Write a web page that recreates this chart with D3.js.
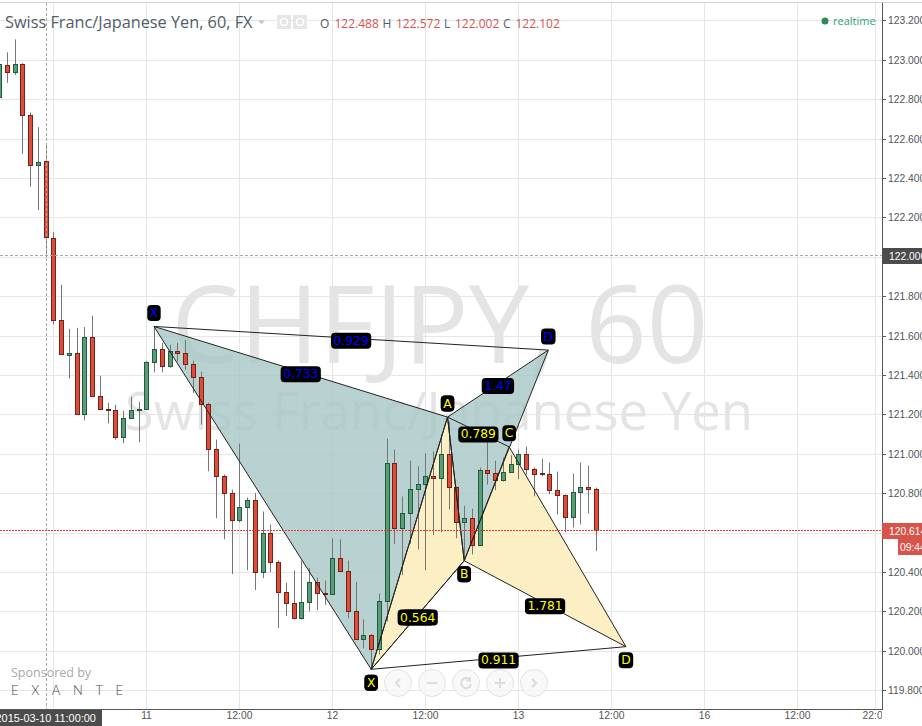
<!DOCTYPE html>
<html>
<head>
<meta charset="utf-8">
<title>CHFJPY, 60</title>
<script src="https://cdn.jsdelivr.net/npm/d3@7/dist/d3.min.js"></script>
<style>
  html, body { margin: 0; padding: 0; background: #fff; overflow: hidden; }
  svg { display: block; }
  .axis-text { font-family: "Liberation Sans", Arial, sans-serif; font-size: 10.3px; fill: #555; }
  .ui { font-family: "Open Sans", sans-serif; }
  .tag { font-family: "DejaVu Sans", sans-serif; font-size: 12.3px; text-anchor: middle; dominant-baseline: central; }
</style>
</head>
<body>
<svg id="chart" width="922" height="726"></svg>
<script>
// hours counted from 2015-03-11 00:00, gaps closed over the weekend
const firstBar = -19;
const opens = [
  122.812, 122.978, 122.938, 122.983, 122.720, 122.466, 122.488, 122.097, 121.681, 121.505,
  121.514, 121.205, 121.595, 121.296, 121.230, 121.225, 121.088, 121.184, 121.223, 121.230,
  121.468, 121.534, 121.446, 121.524, 121.514, 121.458, 121.392, 121.255, 121.027, 120.891,
  120.804, 120.668, 120.734, 120.769, 120.404, 120.602, 120.455, 120.303, 120.247, 120.171,
  120.252, 120.353, 120.298, 120.290, 120.475, 120.409, 120.205, 120.063, 120.085, 120.012,
  120.255, 120.956, 120.627, 120.703, 120.825, 120.850, 120.891, 120.878, 121.002, 120.833,
  120.657, 120.678, 120.539, 120.921, 120.906, 120.868, 120.911, 120.951, 121.002, 120.924,
  120.903, 120.899, 120.820, 120.794, 120.683, 120.810, 120.835, 120.825
];
const highs = [
  122.985, 123.040, 123.106, 122.985, 122.735, 122.660, 122.572, 122.128, 121.860, 121.637,
  121.642, 121.646, 121.703, 121.399, 121.262, 121.252, 121.221, 121.292, 121.267, 121.473,
  121.649, 121.566, 121.556, 121.566, 121.581, 121.476, 121.419, 121.262, 121.075, 120.897,
  120.821, 121.054, 120.781, 120.804, 120.710, 120.644, 120.461, 120.348, 120.411, 120.460,
  120.424, 120.374, 120.360, 120.573, 120.568, 120.461, 120.353, 120.162, 120.088, 120.294,
  121.080, 121.024, 120.786, 120.968, 120.939, 121.004, 121.015, 121.100, 121.166, 120.837,
  120.739, 120.725, 120.933, 121.110, 120.968, 120.983, 120.995, 121.024, 121.039, 120.933,
  120.977, 120.958, 120.912, 120.796, 120.902, 120.958, 120.943, 120.831
];
const lows = [
  122.800, 122.885, 122.925, 122.525, 122.358, 122.240, 122.002, 121.659, 121.505, 121.385,
  121.200, 121.172, 121.292, 121.228, 121.157, 121.075, 121.056, 121.182, 121.061, 121.228,
  121.416, 121.416, 121.439, 121.471, 121.429, 121.311, 121.151, 120.914, 120.676, 120.569,
  120.392, 120.655, 120.412, 120.311, 120.372, 120.402, 120.118, 120.179, 120.162, 120.162,
  120.203, 120.210, 120.235, 120.288, 120.405, 120.168, 120.060, 120.015, 119.909, 119.985,
  120.152, 120.544, 120.387, 120.546, 120.517, 120.412, 120.590, 120.605, 120.720, 120.574,
  120.461, 120.492, 120.537, 120.847, 120.818, 120.862, 120.909, 120.873, 120.897, 120.787,
  120.889, 120.797, 120.695, 120.605, 120.629, 120.644, 120.700, 120.509
];
const closes = [
  122.980, 122.938, 122.983, 122.720, 122.466, 122.482, 122.102, 121.681, 121.509, 121.512,
  121.205, 121.595, 121.296, 121.230, 121.223, 121.088, 121.184, 121.225, 121.230, 121.468,
  121.534, 121.446, 121.524, 121.512, 121.458, 121.392, 121.255, 121.027, 120.891, 120.804,
  120.668, 120.734, 120.769, 120.404, 120.602, 120.455, 120.303, 120.247, 120.171, 120.252,
  120.353, 120.298, 120.290, 120.475, 120.409, 120.205, 120.065, 120.085, 120.012, 120.255,
  120.956, 120.627, 120.703, 120.825, 120.850, 120.891, 120.878, 121.002, 120.833, 120.657,
  120.678, 120.539, 120.921, 120.906, 120.868, 120.911, 120.951, 121.002, 120.924, 120.901,
  120.899, 120.820, 120.794, 120.683, 120.810, 120.835, 120.823, 120.614
];

// the two harmonic patterns, X A B C D as [hour, price]
const bluePoints = [[0.97, 121.649], [29, 119.909], [38.85, 121.189], [41, 120.460], [51.85, 121.529]];
const yellowPoints = [[29, 119.909], [38.85, 121.189], [41, 120.460], [46.8, 121.038], [61.87, 120.024]];
const blueRatios = { XB: "0.733", AC: "0.62", BD: "1.47", XD: "0.929" };
const yellowRatios = { XB: "0.564", AC: "0.789", BD: "1.781", XD: "0.911" };
const pointNames = ["X", "A", "B", "C", "D"];
const blueTagSide = [-1, 1, -1, 1, -1];
const yellowTagSide = [1, -1, 1, -1, 1];

const priceTicks = d3.range(119.8, 123.21, 0.2);
const timeTicks = [-12, 0, 12, 24, 36, 48, 60, 72, 84, 94];
const timeLabels = ["", "11", "12:00", "12", "12:00", "13", "12:00", "16", "12:00", "22:00"];

const lastPrice = 120.614;
const crossPrice = 122.0;
const crossHour = -13;
const crossLabel = "2015-03-10 11:00:00";
const countdown = "09:44";
const legendKeys = ["O", "H", "L", "C"];
const legendValues = ["122.488", "122.572", "122.002", "122.102"];

const paneRight = 882, paneBottom = 709;
const red = "#d94f3b", redEdge = "#7a1f14", green = "#5a9c78", greenEdge = "#1f5c3e";

const svg = d3.select("#chart");
const x = d3.scaleLinear().domain([0, 60]).range([146.45, 611.45]);
const y = d3.scaleLinear().domain([119.8, 123.2]).range([690.8, 20.8]);
// snapped copy so grid lines land on whole pixels
const yGrid = y.copy().range([690.3, 20.3]).interpolate(d3.interpolateRound);
const xGrid = x.copy().interpolate(d3.interpolateRound);

svg.append("defs").append("clipPath").attr("id", "pane")
  .append("rect").attr("x", 0).attr("y", 3).attr("width", paneRight).attr("height", paneBottom - 3);
svg.append("defs").append("clipPath").attr("id", "xlabels")
  .append("rect").attr("x", 0).attr("y", paneBottom).attr("width", paneRight).attr("height", 20);

const pane = svg.append("g").attr("clip-path", "url(#pane)");

// Grid
pane.append("g").selectAll("line").data(priceTicks).join("line")
  .attr("x1", 0).attr("x2", paneRight)
  .attr("y1", d => yGrid(d) + 0.5).attr("y2", d => yGrid(d) + 0.5)
  .attr("stroke", "#e6e6e6");
pane.append("g").selectAll("line").data(timeTicks).join("line")
  .attr("y1", 3).attr("y2", paneBottom)
  .attr("x1", d => xGrid(d) + 0.5).attr("x2", d => xGrid(d) + 0.5)
  .attr("stroke", "#e6e6e6");

// Watermark
pane.append("text").text("CHFJPY, 60")
  .attr("x", 440).attr("y", 363).attr("text-anchor", "middle")
  .attr("font-family", "'Open Sans', sans-serif").attr("font-size", 108)
  .attr("fill", "#e4e4e4");
pane.append("text").text("Swiss Franc/Japanese Yen")
  .attr("x", 439).attr("y", 430).attr("text-anchor", "middle")
  .attr("font-family", "'Open Sans', sans-serif").attr("font-size", 52.7)
  .attr("fill", "#e4e4e4");

// Pattern fills go under the candles
function triangle(points, a, b, c) {
  return d3.line().x(d => x(d[0])).y(d => y(d[1]))([points[a], points[b], points[c]]) + "Z";
}
function fillPattern(points, colour, opacity) {
  [[0, 1, 2], [2, 3, 4]].forEach(t => {
    pane.append("path").attr("d", triangle(points, t[0], t[1], t[2]))
      .attr("fill", colour).attr("fill-opacity", opacity);
  });
}
fillPattern(bluePoints, "#a6c7c7", 0.8);
fillPattern(yellowPoints, "#fdeebf", 0.93);

// Candles
const bars = d3.range(opens.length).map(i => ({
  hour: firstBar + i, open: opens[i], high: highs[i], low: lows[i], close: closes[i]
}));
const snapX = d => Math.round(x(d.hour)) + 0.5;
const up = d => d.close >= d.open;
const candle = pane.append("g").selectAll("g").data(bars).join("g");
candle.append("line")
  .attr("x1", snapX).attr("x2", snapX)
  .attr("y1", d => y(d.high)).attr("y2", d => y(d.low))
  .attr("stroke", "#757575");
candle.append("rect")
  .attr("x", d => snapX(d) - 2).attr("width", 4)
  .attr("y", d => Math.round(y(Math.max(d.open, d.close))) + 0.5)
  .attr("height", d => Math.max(1, Math.round(y(Math.min(d.open, d.close))) - Math.round(y(Math.max(d.open, d.close)))))
  .attr("fill", d => up(d) ? green : red)
  .attr("stroke", d => up(d) ? greenEdge : redEdge);

// Pattern lines on top
function linePattern(points) {
  [[0, 1], [1, 2], [2, 3], [3, 4], [0, 2], [1, 3], [2, 4], [0, 4]].forEach(s => {
    pane.append("line")
      .attr("x1", x(points[s[0]][0])).attr("y1", y(points[s[0]][1]))
      .attr("x2", x(points[s[1]][0])).attr("y2", y(points[s[1]][1]))
      .attr("stroke", "#222").attr("stroke-width", 1);
  });
}
linePattern(bluePoints);
linePattern(yellowPoints);

function tag(cx, cy, label, colour) {
  const g = pane.append("g");
  const t = g.append("text").attr("class", "tag").attr("x", cx).attr("y", cy).attr("fill", colour).text(label);
  const w = t.node().getComputedTextLength() + 5;
  g.insert("rect", "text")
    .attr("x", cx - w / 2).attr("y", cy - 8).attr("width", w).attr("height", 16)
    .attr("rx", 4).attr("fill", "#000");
}
function tagPattern(points, ratios, sides, colour) {
  const mid = (a, b, key) => tag(
    (x(points[a][0]) + x(points[b][0])) / 2,
    (y(points[a][1]) + y(points[b][1])) / 2 + 2.5,
    ratios[key], colour);
  mid(0, 2, "XB"); mid(1, 3, "AC"); mid(2, 4, "BD"); mid(0, 4, "XD");
  points.forEach((p, i) => tag(x(p[0]), y(p[1]) + sides[i] * 13.5, pointNames[i], colour));
}
tagPattern(bluePoints, blueRatios, blueTagSide, "#0000ff");
tagPattern(yellowPoints, yellowRatios, yellowTagSide, "#ffff00");

// Crosshair and last price line
pane.append("line")
  .attr("x1", 0).attr("x2", paneRight).attr("y1", yGrid(crossPrice) - 1.5).attr("y2", yGrid(crossPrice) - 1.5)
  .attr("stroke", "#a8a8a8").attr("stroke-dasharray", "3,2");
pane.append("line")
  .attr("x1", Math.round(x(crossHour)) + 0.5).attr("x2", Math.round(x(crossHour)) + 0.5).attr("y1", 3).attr("y2", paneBottom)
  .attr("stroke", "#a8a8a8").attr("stroke-dasharray", "3,2");
pane.append("line")
  .attr("x1", 0).attr("x2", paneRight).attr("y1", Math.round(y(lastPrice)) + 0.5).attr("y2", Math.round(y(lastPrice)) + 0.5)
  .attr("stroke", "#e8392b").attr("stroke-dasharray", "2,1");

// Nav buttons
const navX = [398, 432, 466, 500, 534];
const navGlyphs = ["M2,-4L-2,0L2,4", "M-5,0H5", "M4,-3A5,5 0 1 0 5,1M4,-6V-2.5H0.5", "M-5,0H5M0,-5V5", "M-2,-4L2,0L-2,4"];
const nav = pane.append("g").selectAll("g").data(navX).join("g")
  .attr("transform", d => `translate(${d},683)`);
nav.append("circle").attr("r", 13.5).attr("fill", "#f7f7f7").attr("fill-opacity", 0.8)
  .attr("stroke", "#e3e3e3").attr("stroke-width", 1);
nav.append("path").attr("d", (d, i) => navGlyphs[i]).attr("fill", "none")
  .attr("stroke", "#dcdcdc").attr("stroke-width", 2);

// Sponsored by
svg.append("text").attr("class", "ui").attr("x", 11).attr("y", 677)
  .attr("font-size", 12.5).attr("fill", "#a9a9a9").text("Sponsored by");
svg.append("text").attr("x", 11).attr("y", 695)
  .attr("font-family", "Lato, sans-serif").attr("font-weight", 300)
  .attr("font-size", 13).attr("letter-spacing", 12.6).attr("fill", "#444").text("EXANTE");

// Axes
svg.append("line").attr("x1", 0).attr("x2", 922).attr("y1", 2.5).attr("y2", 2.5).attr("stroke", "#d0d3da");

const yAxis = d3.axisRight(yGrid).tickValues(priceTicks).tickFormat(d3.format(".3f")).tickSize(4).tickPadding(2);
const yAxisG = svg.append("g").attr("transform", `translate(${paneRight},0)`).call(yAxis);
yAxisG.select(".domain").attr("d", `M0.5,3V${paneBottom}`).attr("stroke", "#555");
yAxisG.selectAll(".tick line").attr("stroke", "#555").attr("x1", 1);
yAxisG.selectAll(".tick text").attr("class", "axis-text");

const xAxis = d3.axisBottom(xGrid).tickValues(timeTicks)
  .tickFormat((d, i) => timeLabels[i]).tickSize(0).tickPadding(3);
const xAxisG = svg.append("g").attr("clip-path", "url(#xlabels)")
  .append("g").attr("transform", `translate(0,${paneBottom})`).call(xAxis);
xAxisG.select(".domain").remove();
xAxisG.selectAll(".tick text").attr("class", "axis-text");
svg.append("line").attr("x1", 0).attr("x2", paneRight + 1)
  .attr("y1", paneBottom + 0.5).attr("y2", paneBottom + 0.5).attr("stroke", "#555");

// Axis flags
svg.append("rect").attr("x", 0).attr("y", paneBottom + 1).attr("width", 102).attr("height", 16).attr("fill", "#4c4c4c");
svg.append("text").text(crossLabel)
  .attr("x", x(crossHour)).attr("y", 722).attr("text-anchor", "middle")
  .attr("font-family", "'Liberation Sans', Arial, sans-serif").attr("font-size", 10.9).attr("fill", "#fff");
svg.append("rect").attr("x", paneRight).attr("y", 248).attr("width", 40).attr("height", 16).attr("fill", "#4c4c4c");
svg.append("text").attr("class", "axis-text").attr("x", 889).attr("y", 259.5).style("fill", "#fff").text(d3.format(".3f")(crossPrice));
svg.append("rect").attr("x", paneRight).attr("y", 523).attr("width", 40).attr("height", 16).attr("fill", "#d9534a");
svg.append("rect").attr("x", 898).attr("y", 539).attr("width", 24).attr("height", 16).attr("fill", "#d9534a");
svg.append("text").attr("class", "axis-text").attr("x", 889).attr("y", 534.5).style("fill", "#fff").text(d3.format(".3f")(lastPrice));
svg.append("text").attr("class", "axis-text").attr("x", 900).attr("y", 550.5).style("fill", "#fff").text(countdown);

// Header
svg.append("text").attr("class", "ui").attr("x", 5).attr("y", 28)
  .attr("font-size", 16.3).attr("fill", "#535c69").text("Swiss Franc/Japanese Yen, 60, FX");
svg.append("path").attr("d", "M258,20.5h7l-3.5,3.5z").attr("fill", "#c4c4c4");
[277, 293].forEach(px => {
  svg.append("rect").attr("x", px).attr("y", 15).attr("width", 14).attr("height", 14).attr("fill", "#e6e6e6");
  svg.append("circle").attr("cx", px + 7).attr("cy", 22).attr("r", 3.5)
    .attr("fill", "none").attr("stroke", "#fff").attr("stroke-width", 1.5);
});
const legendKeyX = [320, 382.5, 444, 503];
const legendValueX = [334.5, 396, 455, 515.5];
legendKeys.forEach((k, i) => {
  svg.append("text").attr("class", "ui").attr("x", legendKeyX[i]).attr("y", 28)
    .attr("font-size", 12).attr("fill", "#535c69").text(k);
  svg.append("text").attr("class", "ui").attr("x", legendValueX[i]).attr("y", 28)
    .attr("font-size", 12).attr("fill", "#d9534a").text(legendValues[i]);
});
svg.append("circle").attr("cx", 825).attr("cy", 21).attr("r", 3.5).attr("fill", "#2e8b57");
svg.append("text").attr("class", "ui").attr("x", 833).attr("y", 25)
  .attr("font-size", 11).attr("fill", "#2f9e7e").text("realtime");
</script>
</body>
</html>
